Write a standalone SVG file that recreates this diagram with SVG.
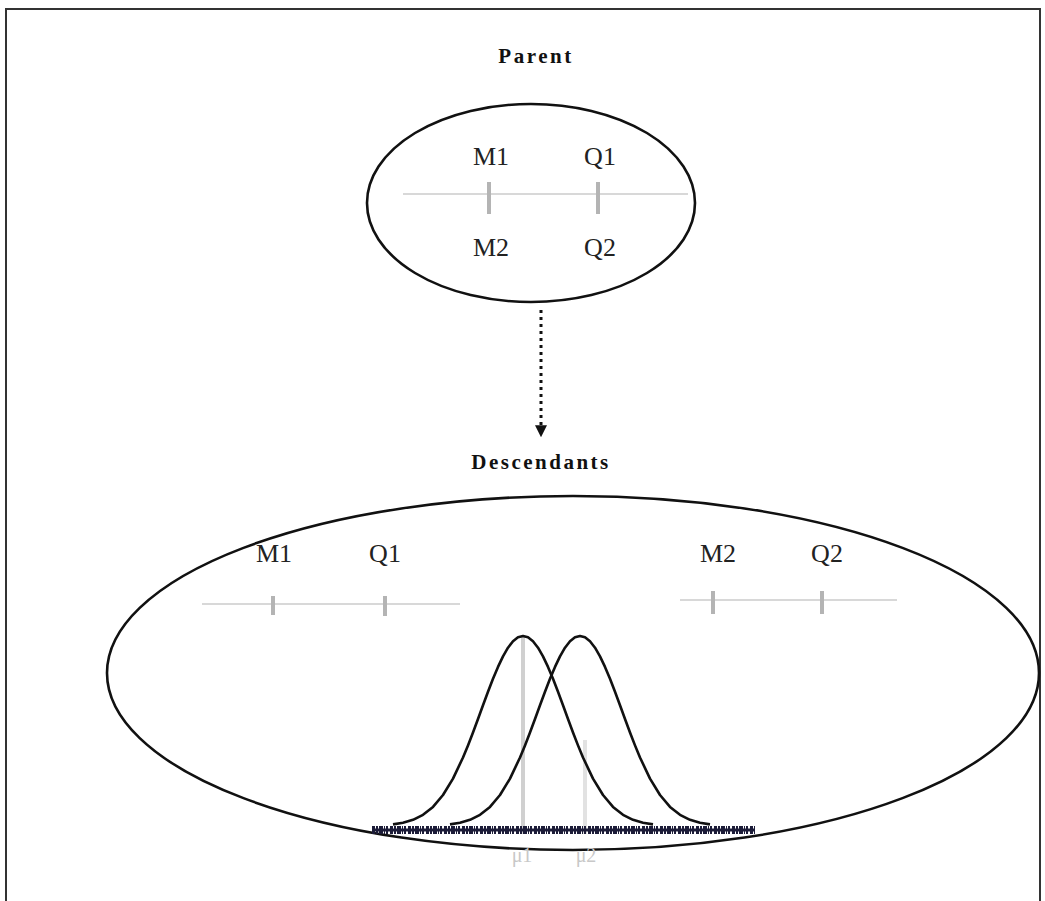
<svg xmlns="http://www.w3.org/2000/svg" width="1045" height="901" viewBox="0 0 1045 901">
<defs>
<style>
.lbl{font-family:"Liberation Serif","Times New Roman",serif;font-size:26px;fill:#222;text-anchor:middle}
.title{font-family:"Liberation Serif","Times New Roman",serif;font-size:21px;font-weight:bold;fill:#111;text-anchor:middle;letter-spacing:2.5px}
.ell{fill:none;stroke:#111;stroke-width:2.6}
.chrom{stroke:#d8d8d8;stroke-width:2;fill:none}
.tick{stroke:#b4b4b4;stroke-width:4}
.curve{fill:none;stroke:#111;stroke-width:2.6;stroke-linejoin:round}
.mu{font-family:"Liberation Serif","Times New Roman",serif;font-size:20px;fill:#c8c8c8;text-anchor:middle}
</style>
<marker id="ah" viewBox="0 0 10 10" refX="9" refY="5" markerWidth="4" markerHeight="4" orient="auto" markerUnits="strokeWidth">
<path d="M0,0 L10,5 L0,10 z" fill="#111"/>
</marker>
</defs>
<rect x="0" y="0" width="1045" height="901" fill="#fff"/>
<rect id="frame" x="6" y="9" width="1034" height="900" fill="none" stroke="#333" stroke-width="2"/>

<g id="parent">
<text class="title" x="536" y="63">Parent</text>
<ellipse class="ell" cx="531" cy="203" rx="164" ry="99"/>
<line class="chrom" x1="403" y1="194" x2="688" y2="194"/>
<line class="tick" x1="489" y1="182" x2="489" y2="214" stroke-width="3"/>
<line class="tick" x1="598" y1="182" x2="598" y2="214" stroke-width="3"/>
<text class="lbl" x="491" y="165">M1</text>
<text class="lbl" x="600" y="165">Q1</text>
<text class="lbl" x="491" y="256">M2</text>
<text class="lbl" x="600" y="256">Q2</text>
</g>

<g id="connectors">
<line x1="541" y1="310" x2="541" y2="436" stroke="#111" stroke-width="3" stroke-dasharray="3 4" marker-end="url(#ah)"/>
</g>

<g id="descendants">
<text class="title" x="541" y="469">Descendants</text>
<ellipse class="ell" cx="573" cy="673" rx="466" ry="177"/>
<line class="chrom" x1="202" y1="604" x2="460" y2="604"/>
<line class="tick" x1="273" y1="596" x2="273" y2="615"/>
<line class="tick" x1="385" y1="596" x2="385" y2="616"/>
<text class="lbl" x="274" y="562">M1</text>
<text class="lbl" x="385" y="562">Q1</text>
<line class="chrom" x1="680" y1="600" x2="897" y2="600"/>
<line class="tick" x1="713" y1="591" x2="713" y2="614" stroke-width="5"/>
<line class="tick" x1="822" y1="591" x2="822" y2="614" stroke-width="5"/>
<text class="lbl" x="718" y="562">M2</text>
<text class="lbl" x="827" y="562">Q2</text>
</g>

<g id="distributions">
<line x1="523" y1="636" x2="523" y2="834" stroke="#d0d0d0" stroke-width="4"/>
<line x1="585" y1="740" x2="585" y2="834" stroke="#e2e2e2" stroke-width="4"/>
<line x1="372" y1="830" x2="755" y2="830" stroke="#1c1c38" stroke-width="3"/>
<line x1="372" y1="830" x2="755" y2="830" stroke="#1c1c38" stroke-width="8" stroke-dasharray="3 1 2 1 4 1 1 1 2 2"/>
<polyline class="curve" points="393,824.4 403,822.8 413,819.8 423,814.8 433,806.9 443,795 453,778.6 463,757.5 468,745.4 473,732.5 478,719 483,705.3 488,691.7 493,678.8 498,666.9 503,656.4 508,647.7 513,641.3 518,637.3 523,636 528,637.3 533,641.3 538,647.7 543,656.4 548,666.9 553,678.8 558,691.7 563,705.3 568,719 573,732.5 578,745.4 583,757.5 593,778.6 603,795 613,806.9 623,814.8 633,819.8 643,822.8 653,824.4"/>
<polyline class="curve" points="450,824.4 460,822.8 470,819.8 480,814.8 490,806.9 500,795 510,778.6 520,757.5 525,745.4 530,732.5 535,719 540,705.3 545,691.7 550,678.8 555,666.9 560,656.4 565,647.7 570,641.3 575,637.3 580,636 585,637.3 590,641.3 595,647.7 600,656.4 605,666.9 610,678.8 615,691.7 620,705.3 625,719 630,732.5 635,745.4 640,757.5 650,778.6 660,795 670,806.9 680,814.8 690,819.8 700,822.8 710,824.4"/>
<text class="mu" x="522" y="862">μ1</text>
<text class="mu" x="586" y="862">μ2</text>
</g>
</svg>
